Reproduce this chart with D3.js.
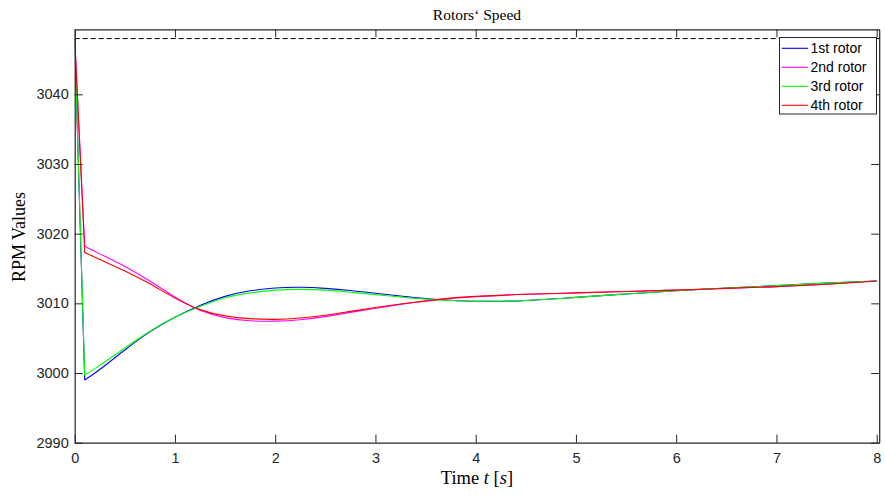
<!DOCTYPE html>
<html>
<head>
<meta charset="utf-8">
<script src="https://cdn.jsdelivr.net/npm/d3@7"></script>
<style>
  html, body { margin: 0; padding: 0; background: #fff; }
  svg { display: block; }
</style>
</head>
<body>
<svg id="chart" width="885" height="498"></svg>
<script>
// ---- data ----
const time = [0, 0.1, 0.25, 0.5, 0.75, 1.0, 1.25, 1.5, 1.75, 2.0, 2.25, 2.5, 2.75, 3.0, 3.25, 3.5, 3.75, 4.0, 4.25, 4.5, 5.0, 5.5, 6.0, 6.5, 7.0, 7.5, 8.0];
const rotor1 = [3048, 2999.0, 3000.5, 3003.3, 3005.9, 3008.0, 3009.7, 3011.0, 3011.8, 3012.2, 3012.3, 3012.15, 3011.85, 3011.45, 3011.05, 3010.7, 3010.45, 3010.3, 3010.3, 3010.4, 3010.85, 3011.35, 3011.8, 3012.2, 3012.55, 3012.9, 3013.2];
const rotor2 = [3048, 3018.2, 3017.1, 3015.3, 3013.2, 3010.9, 3009.0, 3007.95, 3007.5, 3007.45, 3007.65, 3008.1, 3008.7, 3009.3, 3009.85, 3010.3, 3010.7, 3010.95, 3011.15, 3011.3, 3011.5, 3011.7, 3011.9, 3012.15, 3012.4, 3012.75, 3013.2];
const rotor3 = [3048, 2999.7, 3001.1, 3003.6, 3006.0, 3008.0, 3009.55, 3010.8, 3011.5, 3011.9, 3012.0, 3011.9, 3011.6, 3011.25, 3010.9, 3010.6, 3010.4, 3010.3, 3010.3, 3010.4, 3010.85, 3011.35, 3011.8, 3012.2, 3012.55, 3012.9, 3013.2];
const rotor4 = [3048, 3017.3, 3016.3, 3014.65, 3012.8, 3010.75, 3009.1, 3008.2, 3007.8, 3007.7, 3007.9, 3008.3, 3008.85, 3009.4, 3009.9, 3010.35, 3010.75, 3011.0, 3011.15, 3011.3, 3011.5, 3011.7, 3011.9, 3012.15, 3012.4, 3012.75, 3013.2];
const referenceSpeed = 3048;
const seriesNames = ["1st rotor", "2nd rotor", "3rd rotor", "4th rotor"];
const seriesColors = ["#0000ff", "#ff00ff", "#00ff00", "#ff0000"];
const xTicks = [0, 1, 2, 3, 4, 5, 6, 7, 8];
const yTicks = [2990, 3000, 3010, 3020, 3030, 3040];
const xDomain = [0, 8.025];
const yDomain = [2990, 3049.33];

// ---- layout ----
const L = 74.7, R = 879.2, T = 29.3, B = 442.7;
const axisColor = "#262626";
const svg = d3.select("#chart");

const x = d3.scaleLinear().domain(xDomain).range([L, R]);
const y = d3.scaleLinear().domain(yDomain).range([B, T]);

svg.append("defs").append("clipPath").attr("id", "clip")
  .append("rect").attr("x", L).attr("y", T).attr("width", R - L).attr("height", B - T);

const plot = svg.append("g").attr("clip-path", "url(#clip)");

// reference dashed line
plot.append("line")
  .attr("x1", x(xDomain[0])).attr("x2", x(xDomain[1]))
  .attr("y1", y(referenceSpeed)).attr("y2", y(referenceSpeed))
  .attr("stroke", "#000").attr("stroke-width", 1).attr("stroke-dasharray", "5,3");

const series = [rotor1, rotor2, rotor3, rotor4];
const lineStraight = d3.line().x(d => x(d[0])).y(d => y(d[1]));
const lineSmooth = d3.line().x(d => x(d[0])).y(d => y(d[1])).curve(d3.curveNatural);

series.forEach((vals, i) => {
  const pts = time.map((t, j) => [t, vals[j]]);
  const head = pts.slice(0, 2);
  const tail = pts.slice(1);
  const d = lineStraight(head) + lineSmooth(tail).replace(/^M[^A-Za-z]*/, "L" + x(tail[0][0]) + "," + y(tail[0][1]));
  plot.append("path")
    .attr("d", d)
    .attr("fill", "none")
    .attr("stroke", seriesColors[i])
    .attr("stroke-width", 1.1)
    .attr("stroke-linejoin", "miter");
});

// ---- axes ----
function styleAxis(g) {
  g.selectAll("path.domain").attr("stroke", axisColor).attr("stroke-width", 1.2);
  g.selectAll(".tick line").attr("stroke", axisColor).attr("stroke-width", 1);
  g.selectAll(".tick text").attr("fill", axisColor)
    .attr("font-family", "'Liberation Sans', Arial, Helvetica, sans-serif")
    .attr("font-size", "14.5px");
}

svg.append("g").attr("transform", `translate(0,${B})`)
  .call(d3.axisBottom(x).tickValues(xTicks).tickFormat(d3.format("d")).tickSizeInner(-8).tickSizeOuter(0).tickPadding(10.5))
  .call(styleAxis);

svg.append("g").attr("transform", `translate(0,${T})`)
  .call(d3.axisTop(x).tickValues(xTicks).tickFormat("").tickSizeInner(-8).tickSizeOuter(0))
  .call(styleAxis);

svg.append("g").attr("transform", `translate(${L},0)`)
  .call(d3.axisLeft(y).tickValues(yTicks).tickFormat(d3.format("d")).tickSizeInner(-8).tickSizeOuter(0).tickPadding(6))
  .call(styleAxis);

svg.append("g").attr("transform", `translate(${R},0)`)
  .call(d3.axisRight(y).tickValues(yTicks).tickFormat("").tickSizeInner(-8).tickSizeOuter(0))
  .call(styleAxis);

// ---- titles ----
const serif = "'Liberation Serif', 'DejaVu Serif', serif";
svg.append("text")
  .attr("x", (L + R) / 2).attr("y", 19.5)
  .attr("text-anchor", "middle")
  .attr("font-family", serif).attr("font-size", "15.5px").attr("fill", "#000")
  .text("Rotors‘ Speed");

const xl = svg.append("text")
  .attr("x", (L + R) / 2).attr("y", 484)
  .attr("text-anchor", "middle")
  .attr("font-family", serif).attr("font-size", "18.5px").attr("fill", "#000");
xl.append("tspan").text("Time ");
xl.append("tspan").attr("font-style", "italic").text("t");
xl.append("tspan").text(" [");
xl.append("tspan").attr("font-style", "italic").text("s");
xl.append("tspan").text("]");

svg.append("text")
  .attr("transform", `translate(25,${(T + B) / 2 + 1}) rotate(-90)`)
  .attr("text-anchor", "middle")
  .attr("font-family", serif).attr("font-size", "18px").attr("fill", "#000")
  .text("RPM Values");

// ---- legend ----
const lg = svg.append("g");
lg.append("rect")
  .attr("x", 779.5).attr("y", 37.5).attr("width", 97).attr("height", 76.5)
  .attr("fill", "#fff").attr("stroke", axisColor).attr("stroke-width", 1);
seriesNames.forEach((name, i) => {
  const ly = 48.3 + i * 19;
  lg.append("line").attr("x1", 781.7).attr("x2", 808).attr("y1", ly).attr("y2", ly)
    .attr("stroke", seriesColors[i]).attr("stroke-width", 1.1);
  lg.append("text").attr("x", 810.5).attr("y", ly).attr("dy", "0.35em")
    .attr("font-family", "'Liberation Sans', Arial, Helvetica, sans-serif")
    .attr("font-size", "14px").attr("fill", "#000")
    .text(name);
});
</script>
</body>
</html>
